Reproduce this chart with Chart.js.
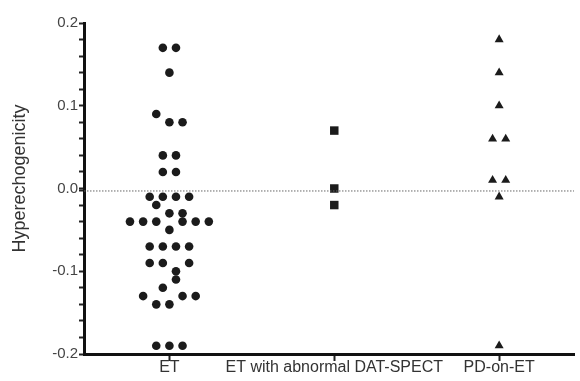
<!DOCTYPE html>
<html>
<head>
<meta charset="utf-8">
<script src="https://cdn.jsdelivr.net/npm/chart.js@4/dist/chart.umd.min.js"></script>
<style>
html, body { margin: 0; padding: 0; background: #fff; }
#wrap { width: 580px; height: 381px; position: relative; }
</style>
</head>
<body>
<div id="wrap"><canvas id="chart"></canvas></div>
<script>
const groups = ['ET', 'ET with abnormal DAT-SPECT', 'PD-on-ET'];

// ET group: values and horizontal slot (spread)
const etValues = [
	0.17, 0.17, 0.14, 0.09, 0.08, 0.08, 0.04, 0.04, 0.02, 0.02,
	-0.01, -0.01, -0.01, -0.01, -0.02, -0.03, -0.03,
	-0.04, -0.04, -0.04, -0.04, -0.04, -0.04, -0.05,
	-0.07, -0.07, -0.07, -0.07, -0.09, -0.09, -0.09,
	-0.10, -0.11, -0.12, -0.13, -0.13, -0.13, -0.14, -0.14,
	-0.19, -0.19, -0.19,
];
const etSlots = [
	-0.5, 0.5, 0, -1, 0, 1, -0.5, 0.5, -0.5, 0.5,
	-1.5, -0.5, 0.5, 1.5, -1, 0, 1,
	-3, -2, -1, 1, 2, 3, 0,
	-1.5, -0.5, 0.5, 1.5, -1.5, -0.5, 1.5,
	0.5, 0.5, -0.5, -2, 1, 2, -1, 0,
	-1, 0, 1,
];
const datValues = [0.07, 0.00, -0.02];
const datSlots = [0, 0, 0];
const pdValues = [0.18, 0.14, 0.10, 0.06, 0.06, 0.01, 0.01, -0.01, -0.19];
const pdSlots = [0, 0, 0, -0.5, 0.5, -0.5, 0.5, 0, 0];

const meanLine = -0.003;
const yTicks = [0.2, 0.18, 0.16, 0.14, 0.12, 0.1, 0.08, 0.06, 0.04, 0.02, 0.0,
	-0.02, -0.04, -0.06, -0.08, -0.1, -0.12, -0.14, -0.16, -0.18, -0.2];

const slotWidth = 0.0797;
const xMin = -0.518;
const xMax = 2.454;

function points(group, values, slots) {
	return values.map((v, i) => ({ x: group + slots[i] * slotWidth, y: v }));
}

const ink = '#1b1b1b';

new Chart(document.getElementById('chart'), {
	type: 'scatter',
	data: {
		datasets: [{
			type: 'line',
			data: [{ x: xMin, y: meanLine }, { x: xMax, y: meanLine }],
			borderColor: '#666',
			borderWidth: 1,
			borderDash: [1.5, 1.5],
			pointRadius: 0,
		}, {
			data: points(0, etValues, etSlots),
			pointStyle: 'circle',
			pointRadius: 4.3,
			backgroundColor: ink,
			borderColor: ink,
			borderWidth: 0,
		}, {
			data: points(1, datValues, datSlots),
			pointStyle: 'rect',
			pointRadius: 6,
			backgroundColor: ink,
			borderColor: ink,
			borderWidth: 0,
		}, {
			data: points(2, pdValues, pdSlots),
			pointStyle: 'triangle',
			pointRadius: 5.2,
			backgroundColor: ink,
			borderColor: ink,
			borderWidth: 0,
		}],
	},
	options: {
		responsive: true,
		maintainAspectRatio: false,
		animation: false,
		layout: { padding: { top: 23, left: 0, right: 0, bottom: 0 } },
		plugins: {
			legend: { display: false },
			tooltip: { enabled: false },
		},
		scales: {
			x: {
				type: 'linear',
				min: xMin,
				max: xMax,
				afterBuildTicks: (scale) => {
					scale.ticks = groups.map((g, i) => ({ value: i }));
				},
				afterFit: (scale) => { scale.height = 27; },
				ticks: {
					autoSkip: false,
					maxRotation: 0,
					padding: -3,
					color: '#333',
					font: { family: 'Liberation Sans, Arial, sans-serif', size: 16 },
					callback: (v) => groups[v],
				},
				grid: {
					drawOnChartArea: false,
					tickLength: 7,
					tickWidth: 2,
					tickColor: '#222',
				},
				border: { color: '#111', width: 3 },
			},
			y: {
				min: -0.2,
				max: 0.2,
				afterBuildTicks: (scale) => {
					scale.ticks = yTicks.concat([meanLine]).map((v) => ({ value: v }));
				},
				afterFit: (scale) => { scale.width = 84; },
				ticks: {
					autoSkip: false,
					padding: 1,
					color: '#444',
					font: { family: 'Liberation Sans, Arial, sans-serif', size: 15 },
					callback: (v) => {
						let t = Math.round(v * 10);
						if(Math.abs(t - v * 10) > 1e-6) {
							return '';
						}
						return (t / 10).toFixed(1);
					},
				},
				grid: {
					drawOnChartArea: false,
					tickLength: 5,
					tickWidth: 2,
					tickColor: '#222',
				},
				border: { color: '#111', width: 3 },
				title: {
					display: true,
					// leading spaces nudge the rotated title up a little
					text: '    Hyperechogenicity',
					color: '#333',
					padding: { top: 9, bottom: 0 },
					font: { family: 'Liberation Sans, Arial, sans-serif', size: 18 },
				},
			},
		},
	},
});
</script>
</body>
</html>
